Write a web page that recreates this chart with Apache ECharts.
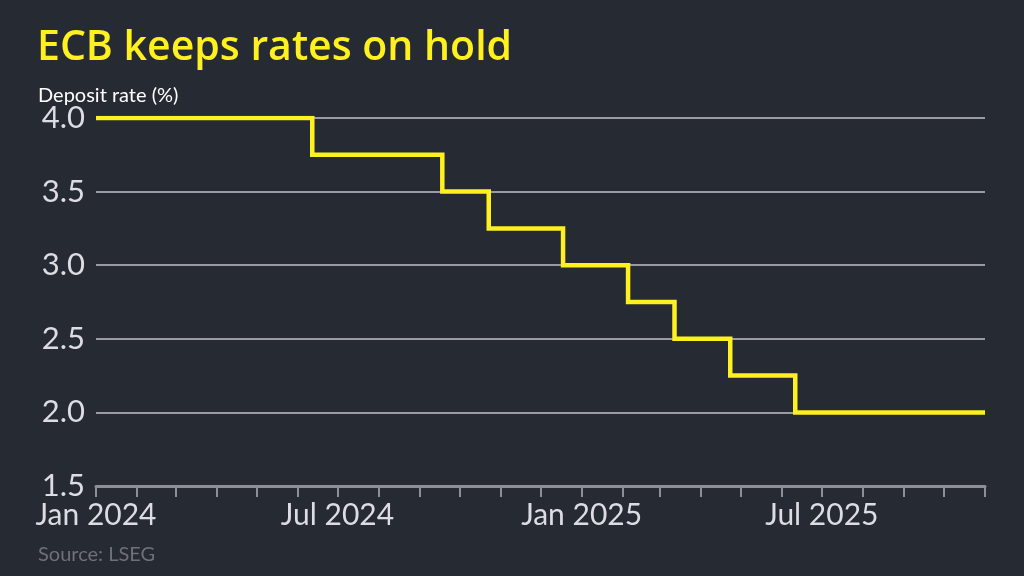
<!DOCTYPE html>
<html>
<head>
<meta charset="utf-8">
<script src="https://cdn.jsdelivr.net/npm/echarts@6/dist/echarts.min.js"></script>
<style>
html,body{margin:0;padding:0;background:#262a33;}
#chart{width:1024px;height:576px;}
</style>
</head>
<body>
<div id="chart"></div>
<script>
const titleText = 'ECB keeps rates on hold';
const subtitleText = 'Deposit rate (%)';
const sourceText = 'Source: LSEG';
const changeDates = ['2024-01-01','2024-06-12','2024-09-18','2024-10-23','2024-12-18','2025-02-05','2025-03-12','2025-04-23','2025-06-11','2025-11-01'];
const depositRates = [4.00, 3.75, 3.50, 3.25, 3.00, 2.75, 2.50, 2.25, 2.00, 2.00];
const xMin = '2024-01-01';
const xMax = '2025-11-01';
const monthNames = ['Jan','Feb','Mar','Apr','May','Jun','Jul','Aug','Sep','Oct','Nov','Dec'];
const labelledMonths = [0, 6];

function parseLocal(s){ const p = s.split('-').map(Number); return new Date(p[0], p[1]-1, p[2]).getTime(); }

const chart = echarts.init(document.getElementById('chart'));
const DAY = 24*3600*1000;
chart.setOption({
  backgroundColor: '#262a33',
  animation: false,
  title: [
    {text: titleText, left: 37, top: 28, padding: 0, textStyle: {color: '#fff01f', fontFamily: 'Open Sans', fontWeight: 600, fontSize: 41}},
    {text: subtitleText, left: 38, top: 86, padding: 0, textStyle: {color: '#ffffff', fontFamily: 'Lato', fontWeight: 'normal', fontSize: 20}},
    {text: sourceText, left: 38, top: 545, padding: 0, textStyle: {color: '#6f7079', fontFamily: 'Lato', fontWeight: 'normal', fontSize: 20}}
  ],
  grid: {left: 96, right: 39, top: 118, bottom: 90, containLabel: false},
  xAxis: {
    type: 'time',
    min: parseLocal(xMin),
    max: parseLocal(xMax),
    minInterval: 28*DAY,
    maxInterval: 31*DAY,
    splitLine: {show: false},
    axisLine: {show: true, lineStyle: {color: '#8e8e96', width: 3}},
    axisTick: {show: true, length: 11, lineStyle: {color: '#8e8e96', width: 2}},
    axisLabel: {
      show: true, interval: 0, showMinLabel: true, showMaxLabel: true, hideOverlap: false,
      color: '#dcdce2', fontFamily: 'Lato', fontSize: 30, margin: 14,
      formatter: function(v){ const d = new Date(v); return labelledMonths.indexOf(d.getMonth()) >= 0 && d.getDate() === 1 ? monthNames[d.getMonth()] + ' ' + d.getFullYear() : ''; }
    }
  },
  yAxis: {
    type: 'value', min: 1.5, max: 4.0, interval: 0.5,
    axisLine: {show: false}, axisTick: {show: false},
    splitLine: {show: true, lineStyle: {color: '#9a9aa2', width: 2}},
    axisLabel: {color: '#dcdce2', fontFamily: 'Lato', fontWeight: 'normal', fontSize: 31, margin: 11,
      formatter: function(v){ return v.toFixed(1); }}
  },
  series: [{
    type: 'line', step: 'end', symbol: 'none',
    lineStyle: {color: '#fff01f', width: 4.5, join: 'miter'},
    data: changeDates.map((d, i) => [parseLocal(d), depositRates[i]])
  }]
});
</script>
</body>
</html>
